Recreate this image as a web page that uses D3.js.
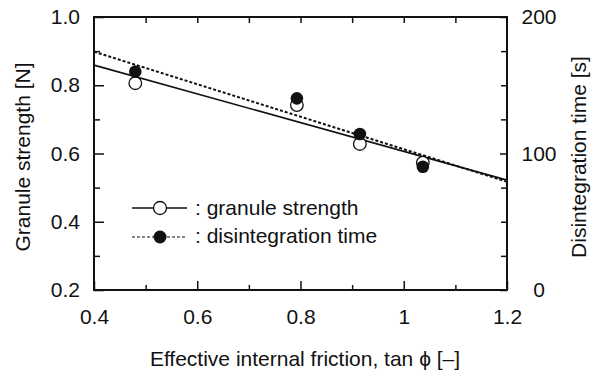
<!DOCTYPE html>
<html lang="en">
<head>
<meta charset="UTF-8">
<title>Granule strength vs friction</title>
<script src="https://cdn.jsdelivr.net/npm/d3@7"></script>
<style>
  body { margin: 0; background: #fff; }
  svg { display: block; font-family: Arial, "Liberation Sans", sans-serif; }
  .tick text { font-size: 21px; fill: #111; }
  .title { font-size: 21px; fill: #111; }
  .legend text { font-size: 21px; fill: #111; }
</style>
</head>
<body>
<div id="chart"></div>
<script>
// measured points, x = tan(phi)
const friction = [0.48, 0.793, 0.915, 1.037];
const strength = [0.806, 0.742, 0.628, 0.573];     // granule strength [N]
const disTime = [160, 140.4, 114.3, 90.3];         // disintegration time [s]

// fit lines read at the x-range ends
const fitX = [0.4, 1.2];
const fitStrength = [0.859, 0.522];
const fitTime = [174.6, 79.3];

const xTicks = [0.4, 0.6, 0.8, 1, 1.2];
const yTicks = [0.2, 0.4, 0.6, 0.8, 1.0];
const y2Ticks = [0, 100, 200];

const W = 591, H = 372;
const margin = { top: 17, right: 84, bottom: 82, left: 94 };
const w = W - margin.left - margin.right,
      h = H - margin.top - margin.bottom;

const svg = d3.select("#chart").append("svg")
  .attr("width", W).attr("height", H);
const g = svg.append("g")
  .attr("transform", "translate(" + margin.left + "," + margin.top + ")");

const x = d3.scaleLinear().domain([0.4, 1.2]).range([0, w]);
const y = d3.scaleLinear().domain([0.2, 1.0]).range([h, 0]);
const y2 = d3.scaleLinear().domain([0, 200]).range([h, 0]);

const fmtX = d => d === 1 ? "1" : d3.format(".1f")(d);

// minor ticks first (inward)
function minor(axis, values, sel, len) {
  sel.call(axis.tickValues(values).tickSize(-len).tickFormat(""));
  sel.select(".domain").remove();
}
minor(d3.axisBottom(x), d3.range(0.5, 1.2, 0.2), g.append("g").attr("transform", "translate(0," + h + ")"), 5);
minor(d3.axisTop(x), d3.range(0.5, 1.2, 0.1), g.append("g"), 6);
minor(d3.axisLeft(y), d3.range(0.3, 1.0, 0.2), g.append("g"), 6);
minor(d3.axisRight(y2), [25, 50, 75, 125, 150, 175], g.append("g").attr("transform", "translate(" + w + ",0)"), 6);

// major axes
g.append("g")
  .attr("transform", "translate(0," + h + ")")
  .call(d3.axisBottom(x).tickValues(xTicks).tickSize(-9).tickPadding(19).tickFormat(fmtX))
  .call(a => a.select(".domain").remove());

g.append("g")
  .call(d3.axisLeft(y).tickValues(yTicks).tickSize(-10).tickPadding(14).tickFormat(d3.format(".1f")))
  .call(a => a.select(".domain").remove());

g.append("g")
  .attr("transform", "translate(" + w + ",0)")
  .call(d3.axisRight(y2).tickValues(y2Ticks).tickSize(-7).tickPadding(32))
  .call(a => a.select(".domain").remove())
  .call(a => a.selectAll("text").attr("text-anchor", "middle"));

g.selectAll(".tick line").attr("stroke", "#111").attr("stroke-width", 1.5);

// frame
g.append("rect")
  .attr("width", w).attr("height", h)
  .attr("fill", "none").attr("stroke", "#111").attr("stroke-width", 2);

// fit lines
const pts = (ys, sc) => fitX.map((d, i) => [x(d), sc(ys[i])]);
g.append("path")
  .attr("d", d3.line()(pts(fitStrength, y)))
  .attr("stroke", "#111").attr("stroke-width", 1.6).attr("fill", "none");
g.append("path")
  .attr("d", d3.line()(pts(fitTime, y2)))
  .attr("stroke", "#111").attr("stroke-width", 2).attr("stroke-dasharray", "3,2").attr("fill", "none");

// points
g.selectAll(".open").data(friction).join("circle")
  .attr("cx", d => x(d)).attr("cy", (d, i) => y(strength[i])).attr("r", 6.3)
  .attr("fill", "#fff").attr("stroke", "#111").attr("stroke-width", 1.3);
g.selectAll(".filled").data(friction).join("circle")
  .attr("cx", d => x(d)).attr("cy", (d, i) => y2(disTime[i])).attr("r", 6.3)
  .attr("fill", "#111");

// legend
const lg = svg.append("g").attr("class", "legend");
lg.append("line").attr("x1", 132).attr("x2", 187).attr("y1", 208).attr("y2", 208)
  .attr("stroke", "#111").attr("stroke-width", 1.5);
lg.append("circle").attr("cx", 160).attr("cy", 208).attr("r", 6.5)
  .attr("fill", "#fff").attr("stroke", "#111").attr("stroke-width", 1.3);
lg.append("text").attr("x", 195).attr("y", 215).text(": granule strength");
lg.append("line").attr("x1", 132).attr("x2", 187).attr("y1", 237).attr("y2", 237)
  .attr("stroke", "#111").attr("stroke-width", 1.2).attr("stroke-dasharray", "3,2");
lg.append("circle").attr("cx", 160).attr("cy", 237).attr("r", 6.5).attr("fill", "#111");
lg.append("text").attr("x", 195).attr("y", 243).text(": disintegration time");

// axis titles
svg.append("text").attr("class", "title")
  .attr("x", 305).attr("y", 366).attr("text-anchor", "middle")
  .text("Effective internal friction, tan \u03d5 [\u2013]");
svg.append("text").attr("class", "title")
  .attr("transform", "translate(30,157) rotate(-90)")
  .attr("text-anchor", "middle")
  .text("Granule strength [N]");
svg.append("text").attr("class", "title")
  .attr("transform", "translate(586,157) rotate(-90)")
  .attr("text-anchor", "middle")
  .text("Disintegration time [s]");
</script>
</body>
</html>
